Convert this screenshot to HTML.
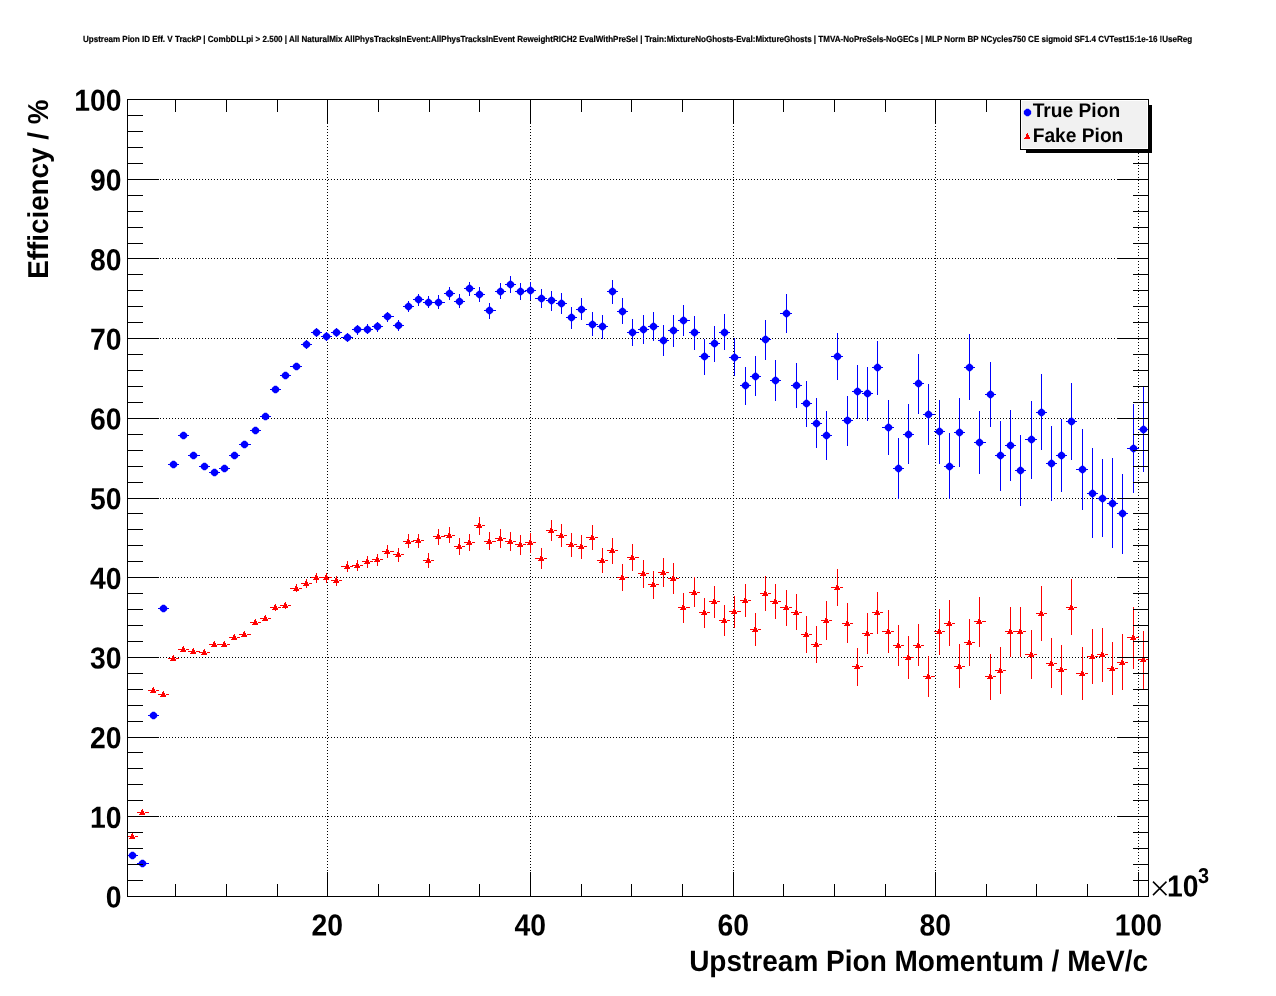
<!DOCTYPE html>
<html><head><meta charset="utf-8"><title>Upstream Pion ID Eff. V TrackP</title>
<style>
html,body{margin:0;padding:0;background:#fff;}
body{width:1276px;height:996px;overflow:hidden;font-family:"Liberation Sans",sans-serif;}
svg{display:block;font-family:"Liberation Sans",sans-serif;font-weight:bold;will-change:transform;text-rendering:geometricPrecision;}
</style></head><body>
<svg width="1276" height="996" viewBox="0 0 1276 996">
<defs><path id="dot" d="M-1.1-3.7H1.1L3.65-1.4V1.4L1.1 3.7H-1.1L-3.65 1.4V-1.4z"/><g id="tri"><rect x="0" y="-3" width="1" height="1"/><rect x="-1" y="-2" width="2" height="1"/><rect x="-1" y="-1" width="3" height="2"/><rect x="-2" y="1" width="5" height="1"/><rect x="-3" y="2" width="6" height="1"/></g></defs>
<rect x="0" y="0" width="1276" height="996" fill="#fff"/>
<text id="ttl" transform="translate(83 42.1) scale(1 1.1)" font-size="8.03" textLength="1109.2" lengthAdjust="spacingAndGlyphs" stroke="#000" stroke-width="0.18">Upstream Pion ID Eff. V TrackP | CombDLLpi &gt; 2.500 | All NaturalMix AllPhysTracksInEvent:AllPhysTracksInEvent ReweightRICH2 EvalWithPreSel | Train:MixtureNoGhosts-Eval:MixtureGhosts | TMVA-NoPreSels-NoGECs | MLP Norm BP NCycles750 CE sigmoid SF1.4 CVTest15:1e-16 !UseReg</text>
<g stroke="#000" stroke-width="1" stroke-dasharray="1 2" shape-rendering="crispEdges" fill="none">
<line x1="127" y1="816.5" x2="1148" y2="816.5"/>
<line x1="127" y1="737.5" x2="1148" y2="737.5"/>
<line x1="127" y1="657.5" x2="1148" y2="657.5"/>
<line x1="127" y1="577.5" x2="1148" y2="577.5"/>
<line x1="127" y1="498.5" x2="1148" y2="498.5"/>
<line x1="127" y1="418.5" x2="1148" y2="418.5"/>
<line x1="127" y1="338.5" x2="1148" y2="338.5"/>
<line x1="127" y1="258.5" x2="1148" y2="258.5"/>
<line x1="127" y1="179.5" x2="1148" y2="179.5"/>
<line x1="327.5" y1="99" x2="327.5" y2="896"/>
<line x1="530.5" y1="99" x2="530.5" y2="896"/>
<line x1="733.5" y1="99" x2="733.5" y2="896"/>
<line x1="935.5" y1="99" x2="935.5" y2="896"/>
<line x1="1138.5" y1="99" x2="1138.5" y2="896"/>
</g>
<g fill="#0000ff" shape-rendering="crispEdges">
<rect x="128" y="855" width="10" height="1"/>
<rect x="137" y="863" width="12" height="1"/>
<rect x="148" y="715" width="11" height="1"/>
<rect x="158" y="608" width="11" height="1"/>
<rect x="168" y="464" width="11" height="1"/>
<rect x="178" y="435" width="11" height="1"/>
<rect x="188" y="455" width="12" height="1"/>
<rect x="199" y="466" width="11" height="1"/>
<rect x="209" y="472" width="11" height="1"/>
<rect x="219" y="468" width="11" height="1"/>
<rect x="229" y="455" width="11" height="1"/>
<rect x="239" y="444" width="12" height="1"/>
<rect x="250" y="430" width="11" height="1"/>
<rect x="260" y="416" width="11" height="1"/>
<rect x="270" y="389" width="11" height="1"/>
<rect x="280" y="375" width="11" height="1"/>
<rect x="290" y="366" width="12" height="1"/>
<rect x="301" y="344" width="11" height="1"/>
<rect x="306" y="340" width="1" height="9"/>
<rect x="311" y="332" width="11" height="1"/>
<rect x="316" y="328" width="1" height="9"/>
<rect x="321" y="336" width="11" height="1"/>
<rect x="326" y="332" width="1" height="9"/>
<rect x="331" y="332" width="11" height="1"/>
<rect x="336" y="328" width="1" height="9"/>
<rect x="341" y="337" width="12" height="1"/>
<rect x="347" y="333" width="1" height="9"/>
<rect x="352" y="329" width="11" height="1"/>
<rect x="357" y="325" width="1" height="10"/>
<rect x="362" y="329" width="11" height="1"/>
<rect x="367" y="324" width="1" height="10"/>
<rect x="372" y="326" width="11" height="1"/>
<rect x="377" y="322" width="1" height="10"/>
<rect x="382" y="316" width="12" height="1"/>
<rect x="387" y="312" width="1" height="10"/>
<rect x="393" y="325" width="11" height="1"/>
<rect x="398" y="320" width="1" height="11"/>
<rect x="403" y="306" width="11" height="1"/>
<rect x="408" y="301" width="1" height="11"/>
<rect x="413" y="299" width="11" height="1"/>
<rect x="418" y="294" width="1" height="12"/>
<rect x="423" y="302" width="11" height="1"/>
<rect x="428" y="296" width="1" height="12"/>
<rect x="433" y="302" width="12" height="1"/>
<rect x="438" y="295" width="1" height="14"/>
<rect x="444" y="293" width="11" height="1"/>
<rect x="449" y="287" width="1" height="13"/>
<rect x="454" y="301" width="11" height="1"/>
<rect x="459" y="294" width="1" height="14"/>
<rect x="464" y="288" width="11" height="1"/>
<rect x="469" y="282" width="1" height="14"/>
<rect x="474" y="294" width="11" height="1"/>
<rect x="479" y="287" width="1" height="15"/>
<rect x="484" y="310" width="12" height="1"/>
<rect x="489" y="303" width="1" height="16"/>
<rect x="495" y="291" width="11" height="1"/>
<rect x="500" y="283" width="1" height="16"/>
<rect x="505" y="284" width="11" height="1"/>
<rect x="510" y="276" width="1" height="17"/>
<rect x="515" y="291" width="11" height="1"/>
<rect x="520" y="283" width="1" height="17"/>
<rect x="525" y="290" width="11" height="1"/>
<rect x="530" y="282" width="1" height="18"/>
<rect x="535" y="298" width="12" height="1"/>
<rect x="541" y="289" width="1" height="19"/>
<rect x="546" y="300" width="11" height="1"/>
<rect x="551" y="291" width="1" height="20"/>
<rect x="556" y="303" width="11" height="1"/>
<rect x="561" y="293" width="1" height="21"/>
<rect x="566" y="317" width="11" height="1"/>
<rect x="571" y="307" width="1" height="22"/>
<rect x="576" y="309" width="11" height="1"/>
<rect x="581" y="298" width="1" height="22"/>
<rect x="586" y="324" width="12" height="1"/>
<rect x="592" y="312" width="1" height="24"/>
<rect x="597" y="326" width="11" height="1"/>
<rect x="602" y="315" width="1" height="24"/>
<rect x="607" y="291" width="11" height="1"/>
<rect x="612" y="280" width="1" height="24"/>
<rect x="617" y="311" width="11" height="1"/>
<rect x="622" y="298" width="1" height="26"/>
<rect x="627" y="332" width="12" height="1"/>
<rect x="632" y="319" width="1" height="27"/>
<rect x="638" y="329" width="11" height="1"/>
<rect x="643" y="315" width="1" height="29"/>
<rect x="648" y="326" width="11" height="1"/>
<rect x="653" y="312" width="1" height="29"/>
<rect x="658" y="340" width="11" height="1"/>
<rect x="663" y="325" width="1" height="31"/>
<rect x="668" y="330" width="11" height="1"/>
<rect x="673" y="315" width="1" height="32"/>
<rect x="678" y="320" width="12" height="1"/>
<rect x="683" y="305" width="1" height="31"/>
<rect x="689" y="332" width="11" height="1"/>
<rect x="694" y="316" width="1" height="34"/>
<rect x="699" y="356" width="11" height="1"/>
<rect x="704" y="339" width="1" height="36"/>
<rect x="709" y="343" width="11" height="1"/>
<rect x="714" y="326" width="1" height="36"/>
<rect x="719" y="332" width="11" height="1"/>
<rect x="724" y="314" width="1" height="36"/>
<rect x="729" y="357" width="12" height="1"/>
<rect x="734" y="338" width="1" height="38"/>
<rect x="740" y="385" width="11" height="1"/>
<rect x="745" y="367" width="1" height="38"/>
<rect x="750" y="376" width="11" height="1"/>
<rect x="755" y="356" width="1" height="40"/>
<rect x="760" y="339" width="11" height="1"/>
<rect x="765" y="320" width="1" height="40"/>
<rect x="770" y="380" width="11" height="1"/>
<rect x="775" y="360" width="1" height="41"/>
<rect x="780" y="313" width="12" height="1"/>
<rect x="786" y="294" width="1" height="39"/>
<rect x="791" y="385" width="11" height="1"/>
<rect x="796" y="363" width="1" height="45"/>
<rect x="801" y="403" width="11" height="1"/>
<rect x="806" y="381" width="1" height="46"/>
<rect x="811" y="423" width="11" height="1"/>
<rect x="816" y="398" width="1" height="50"/>
<rect x="821" y="435" width="11" height="1"/>
<rect x="826" y="411" width="1" height="49"/>
<rect x="831" y="356" width="12" height="1"/>
<rect x="837" y="333" width="1" height="47"/>
<rect x="842" y="420" width="11" height="1"/>
<rect x="847" y="396" width="1" height="50"/>
<rect x="852" y="391" width="11" height="1"/>
<rect x="857" y="365" width="1" height="54"/>
<rect x="862" y="393" width="11" height="1"/>
<rect x="867" y="367" width="1" height="54"/>
<rect x="872" y="367" width="11" height="1"/>
<rect x="877" y="341" width="1" height="54"/>
<rect x="882" y="427" width="12" height="1"/>
<rect x="888" y="400" width="1" height="55"/>
<rect x="893" y="468" width="11" height="1"/>
<rect x="898" y="438" width="1" height="61"/>
<rect x="903" y="434" width="11" height="1"/>
<rect x="908" y="404" width="1" height="60"/>
<rect x="913" y="383" width="11" height="1"/>
<rect x="918" y="354" width="1" height="60"/>
<rect x="923" y="414" width="12" height="1"/>
<rect x="928" y="384" width="1" height="61"/>
<rect x="934" y="431" width="11" height="1"/>
<rect x="939" y="400" width="1" height="64"/>
<rect x="944" y="466" width="11" height="1"/>
<rect x="949" y="433" width="1" height="66"/>
<rect x="954" y="432" width="11" height="1"/>
<rect x="959" y="398" width="1" height="69"/>
<rect x="964" y="367" width="11" height="1"/>
<rect x="969" y="334" width="1" height="66"/>
<rect x="974" y="442" width="12" height="1"/>
<rect x="979" y="411" width="1" height="63"/>
<rect x="985" y="394" width="11" height="1"/>
<rect x="990" y="362" width="1" height="65"/>
<rect x="995" y="455" width="11" height="1"/>
<rect x="1000" y="421" width="1" height="70"/>
<rect x="1005" y="445" width="11" height="1"/>
<rect x="1010" y="410" width="1" height="71"/>
<rect x="1015" y="470" width="11" height="1"/>
<rect x="1020" y="435" width="1" height="71"/>
<rect x="1025" y="439" width="12" height="1"/>
<rect x="1031" y="401" width="1" height="78"/>
<rect x="1036" y="412" width="11" height="1"/>
<rect x="1041" y="374" width="1" height="76"/>
<rect x="1046" y="463" width="11" height="1"/>
<rect x="1051" y="426" width="1" height="75"/>
<rect x="1056" y="455" width="11" height="1"/>
<rect x="1061" y="419" width="1" height="73"/>
<rect x="1066" y="421" width="11" height="1"/>
<rect x="1071" y="383" width="1" height="77"/>
<rect x="1076" y="469" width="12" height="1"/>
<rect x="1082" y="429" width="1" height="81"/>
<rect x="1087" y="493" width="11" height="1"/>
<rect x="1092" y="448" width="1" height="90"/>
<rect x="1097" y="498" width="11" height="1"/>
<rect x="1102" y="459" width="1" height="78"/>
<rect x="1107" y="503" width="11" height="1"/>
<rect x="1112" y="458" width="1" height="90"/>
<rect x="1117" y="513" width="11" height="1"/>
<rect x="1122" y="474" width="1" height="80"/>
<rect x="1127" y="448" width="12" height="1"/>
<rect x="1133" y="404" width="1" height="89"/>
<rect x="1138" y="429" width="10" height="1"/>
<rect x="1143" y="386" width="1" height="86"/>
</g>
<g fill="#0000ff">
<use href="#dot" x="132.5" y="855.5"/>
<use href="#dot" x="142.5" y="863.5"/>
<use href="#dot" x="153.5" y="715.5"/>
<use href="#dot" x="163.5" y="608.5"/>
<use href="#dot" x="173.5" y="464.5"/>
<use href="#dot" x="183.5" y="435.5"/>
<use href="#dot" x="193.5" y="455.5"/>
<use href="#dot" x="204.5" y="466.5"/>
<use href="#dot" x="214.5" y="472.5"/>
<use href="#dot" x="224.5" y="468.5"/>
<use href="#dot" x="234.5" y="455.5"/>
<use href="#dot" x="244.5" y="444.5"/>
<use href="#dot" x="255.5" y="430.5"/>
<use href="#dot" x="265.5" y="416.5"/>
<use href="#dot" x="275.5" y="389.5"/>
<use href="#dot" x="285.5" y="375.5"/>
<use href="#dot" x="296.5" y="366.5"/>
<use href="#dot" x="306.5" y="344.5"/>
<use href="#dot" x="316.5" y="332.5"/>
<use href="#dot" x="326.5" y="336.5"/>
<use href="#dot" x="336.5" y="332.5"/>
<use href="#dot" x="347.5" y="337.5"/>
<use href="#dot" x="357.5" y="329.5"/>
<use href="#dot" x="367.5" y="329.5"/>
<use href="#dot" x="377.5" y="326.5"/>
<use href="#dot" x="387.5" y="316.5"/>
<use href="#dot" x="398.5" y="325.5"/>
<use href="#dot" x="408.5" y="306.5"/>
<use href="#dot" x="418.5" y="299.5"/>
<use href="#dot" x="428.5" y="302.5"/>
<use href="#dot" x="438.5" y="302.5"/>
<use href="#dot" x="449.5" y="293.5"/>
<use href="#dot" x="459.5" y="301.5"/>
<use href="#dot" x="469.5" y="288.5"/>
<use href="#dot" x="479.5" y="294.5"/>
<use href="#dot" x="489.5" y="310.5"/>
<use href="#dot" x="500.5" y="291.5"/>
<use href="#dot" x="510.5" y="284.5"/>
<use href="#dot" x="520.5" y="291.5"/>
<use href="#dot" x="530.5" y="290.5"/>
<use href="#dot" x="541.5" y="298.5"/>
<use href="#dot" x="551.5" y="300.5"/>
<use href="#dot" x="561.5" y="303.5"/>
<use href="#dot" x="571.5" y="317.5"/>
<use href="#dot" x="581.5" y="309.5"/>
<use href="#dot" x="592.5" y="324.5"/>
<use href="#dot" x="602.5" y="326.5"/>
<use href="#dot" x="612.5" y="291.5"/>
<use href="#dot" x="622.5" y="311.5"/>
<use href="#dot" x="632.5" y="332.5"/>
<use href="#dot" x="643.5" y="329.5"/>
<use href="#dot" x="653.5" y="326.5"/>
<use href="#dot" x="663.5" y="340.5"/>
<use href="#dot" x="673.5" y="330.5"/>
<use href="#dot" x="683.5" y="320.5"/>
<use href="#dot" x="694.5" y="332.5"/>
<use href="#dot" x="704.5" y="356.5"/>
<use href="#dot" x="714.5" y="343.5"/>
<use href="#dot" x="724.5" y="332.5"/>
<use href="#dot" x="734.5" y="357.5"/>
<use href="#dot" x="745.5" y="385.5"/>
<use href="#dot" x="755.5" y="376.5"/>
<use href="#dot" x="765.5" y="339.5"/>
<use href="#dot" x="775.5" y="380.5"/>
<use href="#dot" x="786.5" y="313.5"/>
<use href="#dot" x="796.5" y="385.5"/>
<use href="#dot" x="806.5" y="403.5"/>
<use href="#dot" x="816.5" y="423.5"/>
<use href="#dot" x="826.5" y="435.5"/>
<use href="#dot" x="837.5" y="356.5"/>
<use href="#dot" x="847.5" y="420.5"/>
<use href="#dot" x="857.5" y="391.5"/>
<use href="#dot" x="867.5" y="393.5"/>
<use href="#dot" x="877.5" y="367.5"/>
<use href="#dot" x="888.5" y="427.5"/>
<use href="#dot" x="898.5" y="468.5"/>
<use href="#dot" x="908.5" y="434.5"/>
<use href="#dot" x="918.5" y="383.5"/>
<use href="#dot" x="928.5" y="414.5"/>
<use href="#dot" x="939.5" y="431.5"/>
<use href="#dot" x="949.5" y="466.5"/>
<use href="#dot" x="959.5" y="432.5"/>
<use href="#dot" x="969.5" y="367.5"/>
<use href="#dot" x="979.5" y="442.5"/>
<use href="#dot" x="990.5" y="394.5"/>
<use href="#dot" x="1000.5" y="455.5"/>
<use href="#dot" x="1010.5" y="445.5"/>
<use href="#dot" x="1020.5" y="470.5"/>
<use href="#dot" x="1031.5" y="439.5"/>
<use href="#dot" x="1041.5" y="412.5"/>
<use href="#dot" x="1051.5" y="463.5"/>
<use href="#dot" x="1061.5" y="455.5"/>
<use href="#dot" x="1071.5" y="421.5"/>
<use href="#dot" x="1082.5" y="469.5"/>
<use href="#dot" x="1092.5" y="493.5"/>
<use href="#dot" x="1102.5" y="498.5"/>
<use href="#dot" x="1112.5" y="503.5"/>
<use href="#dot" x="1122.5" y="513.5"/>
<use href="#dot" x="1133.5" y="448.5"/>
<use href="#dot" x="1143.5" y="429.5"/>
</g>
<g fill="#ff0000" shape-rendering="crispEdges">
<rect x="128" y="836" width="3" height="1"/>
<rect x="135" y="836" width="3" height="1"/>
<rect x="137" y="812" width="4" height="1"/>
<rect x="145" y="812" width="4" height="1"/>
<rect x="148" y="690" width="4" height="1"/>
<rect x="156" y="690" width="3" height="1"/>
<rect x="158" y="694" width="4" height="1"/>
<rect x="166" y="694" width="3" height="1"/>
<rect x="168" y="658" width="4" height="1"/>
<rect x="176" y="658" width="3" height="1"/>
<rect x="178" y="649" width="4" height="1"/>
<rect x="186" y="649" width="3" height="1"/>
<rect x="188" y="651" width="4" height="1"/>
<rect x="196" y="651" width="4" height="1"/>
<rect x="199" y="652" width="4" height="1"/>
<rect x="207" y="652" width="3" height="1"/>
<rect x="209" y="644" width="4" height="1"/>
<rect x="217" y="644" width="3" height="1"/>
<rect x="219" y="644" width="4" height="1"/>
<rect x="227" y="644" width="3" height="1"/>
<rect x="229" y="637" width="4" height="1"/>
<rect x="237" y="637" width="3" height="1"/>
<rect x="239" y="634" width="4" height="1"/>
<rect x="247" y="634" width="4" height="1"/>
<rect x="250" y="622" width="4" height="1"/>
<rect x="258" y="622" width="3" height="1"/>
<rect x="260" y="618" width="4" height="1"/>
<rect x="268" y="618" width="3" height="1"/>
<rect x="270" y="607" width="4" height="1"/>
<rect x="278" y="607" width="3" height="1"/>
<rect x="275" y="604" width="1" height="7"/>
<rect x="280" y="605" width="4" height="1"/>
<rect x="288" y="605" width="3" height="1"/>
<rect x="285" y="602" width="1" height="7"/>
<rect x="290" y="588" width="5" height="1"/>
<rect x="299" y="588" width="3" height="1"/>
<rect x="296" y="584" width="1" height="8"/>
<rect x="301" y="583" width="4" height="1"/>
<rect x="309" y="583" width="3" height="1"/>
<rect x="306" y="579" width="1" height="9"/>
<rect x="311" y="577" width="4" height="1"/>
<rect x="319" y="577" width="3" height="1"/>
<rect x="316" y="573" width="1" height="10"/>
<rect x="321" y="577" width="4" height="1"/>
<rect x="329" y="577" width="3" height="1"/>
<rect x="326" y="573" width="1" height="10"/>
<rect x="331" y="580" width="4" height="1"/>
<rect x="339" y="580" width="3" height="1"/>
<rect x="336" y="576" width="1" height="10"/>
<rect x="341" y="566" width="5" height="1"/>
<rect x="350" y="566" width="3" height="1"/>
<rect x="347" y="561" width="1" height="11"/>
<rect x="352" y="565" width="4" height="1"/>
<rect x="360" y="565" width="3" height="1"/>
<rect x="357" y="560" width="1" height="11"/>
<rect x="362" y="561" width="4" height="1"/>
<rect x="370" y="561" width="3" height="1"/>
<rect x="367" y="556" width="1" height="12"/>
<rect x="372" y="559" width="4" height="1"/>
<rect x="380" y="559" width="3" height="1"/>
<rect x="377" y="554" width="1" height="12"/>
<rect x="382" y="551" width="4" height="1"/>
<rect x="390" y="551" width="4" height="1"/>
<rect x="387" y="545" width="1" height="13"/>
<rect x="393" y="554" width="4" height="1"/>
<rect x="401" y="554" width="3" height="1"/>
<rect x="398" y="548" width="1" height="14"/>
<rect x="403" y="541" width="4" height="1"/>
<rect x="411" y="541" width="3" height="1"/>
<rect x="408" y="534" width="1" height="14"/>
<rect x="413" y="540" width="4" height="1"/>
<rect x="421" y="540" width="3" height="1"/>
<rect x="418" y="534" width="1" height="14"/>
<rect x="423" y="560" width="4" height="1"/>
<rect x="431" y="560" width="3" height="1"/>
<rect x="428" y="553" width="1" height="15"/>
<rect x="433" y="536" width="4" height="1"/>
<rect x="441" y="536" width="4" height="1"/>
<rect x="438" y="529" width="1" height="16"/>
<rect x="444" y="535" width="4" height="1"/>
<rect x="452" y="535" width="3" height="1"/>
<rect x="449" y="527" width="1" height="16"/>
<rect x="454" y="546" width="4" height="1"/>
<rect x="462" y="546" width="3" height="1"/>
<rect x="459" y="538" width="1" height="17"/>
<rect x="464" y="542" width="4" height="1"/>
<rect x="472" y="542" width="3" height="1"/>
<rect x="469" y="534" width="1" height="17"/>
<rect x="474" y="525" width="4" height="1"/>
<rect x="482" y="525" width="3" height="1"/>
<rect x="479" y="517" width="1" height="18"/>
<rect x="484" y="541" width="4" height="1"/>
<rect x="492" y="541" width="4" height="1"/>
<rect x="489" y="532" width="1" height="18"/>
<rect x="495" y="538" width="4" height="1"/>
<rect x="503" y="538" width="3" height="1"/>
<rect x="500" y="529" width="1" height="19"/>
<rect x="505" y="541" width="4" height="1"/>
<rect x="513" y="541" width="3" height="1"/>
<rect x="510" y="532" width="1" height="19"/>
<rect x="515" y="544" width="4" height="1"/>
<rect x="523" y="544" width="3" height="1"/>
<rect x="520" y="535" width="1" height="20"/>
<rect x="525" y="542" width="4" height="1"/>
<rect x="533" y="542" width="3" height="1"/>
<rect x="530" y="533" width="1" height="20"/>
<rect x="535" y="558" width="5" height="1"/>
<rect x="544" y="558" width="3" height="1"/>
<rect x="541" y="548" width="1" height="21"/>
<rect x="546" y="530" width="4" height="1"/>
<rect x="554" y="530" width="3" height="1"/>
<rect x="551" y="520" width="1" height="21"/>
<rect x="556" y="535" width="4" height="1"/>
<rect x="564" y="535" width="3" height="1"/>
<rect x="561" y="524" width="1" height="23"/>
<rect x="566" y="544" width="4" height="1"/>
<rect x="574" y="544" width="3" height="1"/>
<rect x="571" y="533" width="1" height="24"/>
<rect x="576" y="546" width="4" height="1"/>
<rect x="584" y="546" width="3" height="1"/>
<rect x="581" y="535" width="1" height="24"/>
<rect x="586" y="537" width="5" height="1"/>
<rect x="595" y="537" width="3" height="1"/>
<rect x="592" y="525" width="1" height="25"/>
<rect x="597" y="560" width="4" height="1"/>
<rect x="605" y="560" width="3" height="1"/>
<rect x="602" y="548" width="1" height="25"/>
<rect x="607" y="550" width="4" height="1"/>
<rect x="615" y="550" width="3" height="1"/>
<rect x="612" y="538" width="1" height="26"/>
<rect x="617" y="577" width="4" height="1"/>
<rect x="625" y="577" width="3" height="1"/>
<rect x="622" y="564" width="1" height="27"/>
<rect x="627" y="557" width="4" height="1"/>
<rect x="635" y="557" width="4" height="1"/>
<rect x="632" y="544" width="1" height="27"/>
<rect x="638" y="573" width="4" height="1"/>
<rect x="646" y="573" width="3" height="1"/>
<rect x="643" y="560" width="1" height="28"/>
<rect x="648" y="584" width="4" height="1"/>
<rect x="656" y="584" width="3" height="1"/>
<rect x="653" y="571" width="1" height="28"/>
<rect x="658" y="572" width="4" height="1"/>
<rect x="666" y="572" width="3" height="1"/>
<rect x="663" y="558" width="1" height="29"/>
<rect x="668" y="578" width="4" height="1"/>
<rect x="676" y="578" width="3" height="1"/>
<rect x="673" y="563" width="1" height="31"/>
<rect x="678" y="607" width="4" height="1"/>
<rect x="686" y="607" width="4" height="1"/>
<rect x="683" y="593" width="1" height="30"/>
<rect x="689" y="592" width="4" height="1"/>
<rect x="697" y="592" width="3" height="1"/>
<rect x="694" y="577" width="1" height="30"/>
<rect x="699" y="612" width="4" height="1"/>
<rect x="707" y="612" width="3" height="1"/>
<rect x="704" y="598" width="1" height="30"/>
<rect x="709" y="601" width="4" height="1"/>
<rect x="717" y="601" width="3" height="1"/>
<rect x="714" y="586" width="1" height="32"/>
<rect x="719" y="620" width="4" height="1"/>
<rect x="727" y="620" width="3" height="1"/>
<rect x="724" y="605" width="1" height="31"/>
<rect x="729" y="611" width="4" height="1"/>
<rect x="737" y="611" width="4" height="1"/>
<rect x="734" y="596" width="1" height="32"/>
<rect x="740" y="600" width="4" height="1"/>
<rect x="748" y="600" width="3" height="1"/>
<rect x="745" y="584" width="1" height="33"/>
<rect x="750" y="629" width="4" height="1"/>
<rect x="758" y="629" width="3" height="1"/>
<rect x="755" y="613" width="1" height="33"/>
<rect x="760" y="593" width="4" height="1"/>
<rect x="768" y="593" width="3" height="1"/>
<rect x="765" y="576" width="1" height="35"/>
<rect x="770" y="601" width="4" height="1"/>
<rect x="778" y="601" width="3" height="1"/>
<rect x="775" y="584" width="1" height="35"/>
<rect x="780" y="607" width="5" height="1"/>
<rect x="789" y="607" width="3" height="1"/>
<rect x="786" y="590" width="1" height="36"/>
<rect x="791" y="612" width="4" height="1"/>
<rect x="799" y="612" width="3" height="1"/>
<rect x="796" y="594" width="1" height="36"/>
<rect x="801" y="634" width="4" height="1"/>
<rect x="809" y="634" width="3" height="1"/>
<rect x="806" y="616" width="1" height="37"/>
<rect x="811" y="644" width="4" height="1"/>
<rect x="819" y="644" width="3" height="1"/>
<rect x="816" y="626" width="1" height="37"/>
<rect x="821" y="620" width="4" height="1"/>
<rect x="829" y="620" width="3" height="1"/>
<rect x="826" y="601" width="1" height="39"/>
<rect x="831" y="587" width="5" height="1"/>
<rect x="840" y="587" width="3" height="1"/>
<rect x="837" y="569" width="1" height="37"/>
<rect x="842" y="623" width="4" height="1"/>
<rect x="850" y="623" width="3" height="1"/>
<rect x="847" y="603" width="1" height="40"/>
<rect x="852" y="666" width="4" height="1"/>
<rect x="860" y="666" width="3" height="1"/>
<rect x="857" y="648" width="1" height="38"/>
<rect x="862" y="633" width="4" height="1"/>
<rect x="870" y="633" width="3" height="1"/>
<rect x="867" y="613" width="1" height="41"/>
<rect x="872" y="612" width="4" height="1"/>
<rect x="880" y="612" width="3" height="1"/>
<rect x="877" y="592" width="1" height="42"/>
<rect x="882" y="631" width="5" height="1"/>
<rect x="891" y="631" width="3" height="1"/>
<rect x="888" y="610" width="1" height="43"/>
<rect x="893" y="645" width="4" height="1"/>
<rect x="901" y="645" width="3" height="1"/>
<rect x="898" y="625" width="1" height="41"/>
<rect x="903" y="657" width="4" height="1"/>
<rect x="911" y="657" width="3" height="1"/>
<rect x="908" y="636" width="1" height="43"/>
<rect x="913" y="645" width="4" height="1"/>
<rect x="921" y="645" width="3" height="1"/>
<rect x="918" y="624" width="1" height="42"/>
<rect x="923" y="676" width="4" height="1"/>
<rect x="931" y="676" width="4" height="1"/>
<rect x="928" y="656" width="1" height="41"/>
<rect x="934" y="631" width="4" height="1"/>
<rect x="942" y="631" width="3" height="1"/>
<rect x="939" y="609" width="1" height="46"/>
<rect x="944" y="623" width="4" height="1"/>
<rect x="952" y="623" width="3" height="1"/>
<rect x="949" y="600" width="1" height="46"/>
<rect x="954" y="666" width="4" height="1"/>
<rect x="962" y="666" width="3" height="1"/>
<rect x="959" y="644" width="1" height="44"/>
<rect x="964" y="642" width="4" height="1"/>
<rect x="972" y="642" width="3" height="1"/>
<rect x="969" y="619" width="1" height="47"/>
<rect x="974" y="621" width="4" height="1"/>
<rect x="982" y="621" width="4" height="1"/>
<rect x="979" y="597" width="1" height="50"/>
<rect x="985" y="676" width="4" height="1"/>
<rect x="993" y="676" width="3" height="1"/>
<rect x="990" y="654" width="1" height="46"/>
<rect x="995" y="670" width="4" height="1"/>
<rect x="1003" y="670" width="3" height="1"/>
<rect x="1000" y="647" width="1" height="47"/>
<rect x="1005" y="631" width="4" height="1"/>
<rect x="1013" y="631" width="3" height="1"/>
<rect x="1010" y="607" width="1" height="50"/>
<rect x="1015" y="631" width="4" height="1"/>
<rect x="1023" y="631" width="3" height="1"/>
<rect x="1020" y="607" width="1" height="50"/>
<rect x="1025" y="654" width="5" height="1"/>
<rect x="1034" y="654" width="3" height="1"/>
<rect x="1031" y="630" width="1" height="49"/>
<rect x="1036" y="613" width="4" height="1"/>
<rect x="1044" y="613" width="3" height="1"/>
<rect x="1041" y="586" width="1" height="55"/>
<rect x="1046" y="663" width="4" height="1"/>
<rect x="1054" y="663" width="3" height="1"/>
<rect x="1051" y="638" width="1" height="50"/>
<rect x="1056" y="669" width="4" height="1"/>
<rect x="1064" y="669" width="3" height="1"/>
<rect x="1061" y="645" width="1" height="50"/>
<rect x="1066" y="607" width="4" height="1"/>
<rect x="1074" y="607" width="3" height="1"/>
<rect x="1071" y="579" width="1" height="56"/>
<rect x="1076" y="673" width="5" height="1"/>
<rect x="1085" y="673" width="3" height="1"/>
<rect x="1082" y="647" width="1" height="53"/>
<rect x="1087" y="656" width="4" height="1"/>
<rect x="1095" y="656" width="3" height="1"/>
<rect x="1092" y="629" width="1" height="55"/>
<rect x="1097" y="654" width="4" height="1"/>
<rect x="1105" y="654" width="3" height="1"/>
<rect x="1102" y="628" width="1" height="54"/>
<rect x="1107" y="668" width="4" height="1"/>
<rect x="1115" y="668" width="3" height="1"/>
<rect x="1112" y="642" width="1" height="53"/>
<rect x="1117" y="662" width="4" height="1"/>
<rect x="1125" y="662" width="3" height="1"/>
<rect x="1122" y="634" width="1" height="56"/>
<rect x="1127" y="637" width="5" height="1"/>
<rect x="1136" y="637" width="3" height="1"/>
<rect x="1133" y="607" width="1" height="62"/>
<rect x="1138" y="659" width="4" height="1"/>
<rect x="1146" y="659" width="2" height="1"/>
<rect x="1143" y="631" width="1" height="58"/>
</g>
<g fill="#ff0000" shape-rendering="crispEdges">
<use href="#tri" x="132" y="836"/>
<use href="#tri" x="142" y="812"/>
<use href="#tri" x="153" y="690"/>
<use href="#tri" x="163" y="694"/>
<use href="#tri" x="173" y="658"/>
<use href="#tri" x="183" y="649"/>
<use href="#tri" x="193" y="651"/>
<use href="#tri" x="204" y="652"/>
<use href="#tri" x="214" y="644"/>
<use href="#tri" x="224" y="644"/>
<use href="#tri" x="234" y="637"/>
<use href="#tri" x="244" y="634"/>
<use href="#tri" x="255" y="622"/>
<use href="#tri" x="265" y="618"/>
<use href="#tri" x="275" y="607"/>
<use href="#tri" x="285" y="605"/>
<use href="#tri" x="296" y="588"/>
<use href="#tri" x="306" y="583"/>
<use href="#tri" x="316" y="577"/>
<use href="#tri" x="326" y="577"/>
<use href="#tri" x="336" y="580"/>
<use href="#tri" x="347" y="566"/>
<use href="#tri" x="357" y="565"/>
<use href="#tri" x="367" y="561"/>
<use href="#tri" x="377" y="559"/>
<use href="#tri" x="387" y="551"/>
<use href="#tri" x="398" y="554"/>
<use href="#tri" x="408" y="541"/>
<use href="#tri" x="418" y="540"/>
<use href="#tri" x="428" y="560"/>
<use href="#tri" x="438" y="536"/>
<use href="#tri" x="449" y="535"/>
<use href="#tri" x="459" y="546"/>
<use href="#tri" x="469" y="542"/>
<use href="#tri" x="479" y="525"/>
<use href="#tri" x="489" y="541"/>
<use href="#tri" x="500" y="538"/>
<use href="#tri" x="510" y="541"/>
<use href="#tri" x="520" y="544"/>
<use href="#tri" x="530" y="542"/>
<use href="#tri" x="541" y="558"/>
<use href="#tri" x="551" y="530"/>
<use href="#tri" x="561" y="535"/>
<use href="#tri" x="571" y="544"/>
<use href="#tri" x="581" y="546"/>
<use href="#tri" x="592" y="537"/>
<use href="#tri" x="602" y="560"/>
<use href="#tri" x="612" y="550"/>
<use href="#tri" x="622" y="577"/>
<use href="#tri" x="632" y="557"/>
<use href="#tri" x="643" y="573"/>
<use href="#tri" x="653" y="584"/>
<use href="#tri" x="663" y="572"/>
<use href="#tri" x="673" y="578"/>
<use href="#tri" x="683" y="607"/>
<use href="#tri" x="694" y="592"/>
<use href="#tri" x="704" y="612"/>
<use href="#tri" x="714" y="601"/>
<use href="#tri" x="724" y="620"/>
<use href="#tri" x="734" y="611"/>
<use href="#tri" x="745" y="600"/>
<use href="#tri" x="755" y="629"/>
<use href="#tri" x="765" y="593"/>
<use href="#tri" x="775" y="601"/>
<use href="#tri" x="786" y="607"/>
<use href="#tri" x="796" y="612"/>
<use href="#tri" x="806" y="634"/>
<use href="#tri" x="816" y="644"/>
<use href="#tri" x="826" y="620"/>
<use href="#tri" x="837" y="587"/>
<use href="#tri" x="847" y="623"/>
<use href="#tri" x="857" y="666"/>
<use href="#tri" x="867" y="633"/>
<use href="#tri" x="877" y="612"/>
<use href="#tri" x="888" y="631"/>
<use href="#tri" x="898" y="645"/>
<use href="#tri" x="908" y="657"/>
<use href="#tri" x="918" y="645"/>
<use href="#tri" x="928" y="676"/>
<use href="#tri" x="939" y="631"/>
<use href="#tri" x="949" y="623"/>
<use href="#tri" x="959" y="666"/>
<use href="#tri" x="969" y="642"/>
<use href="#tri" x="979" y="621"/>
<use href="#tri" x="990" y="676"/>
<use href="#tri" x="1000" y="670"/>
<use href="#tri" x="1010" y="631"/>
<use href="#tri" x="1020" y="631"/>
<use href="#tri" x="1031" y="654"/>
<use href="#tri" x="1041" y="613"/>
<use href="#tri" x="1051" y="663"/>
<use href="#tri" x="1061" y="669"/>
<use href="#tri" x="1071" y="607"/>
<use href="#tri" x="1082" y="673"/>
<use href="#tri" x="1092" y="656"/>
<use href="#tri" x="1102" y="654"/>
<use href="#tri" x="1112" y="668"/>
<use href="#tri" x="1122" y="662"/>
<use href="#tri" x="1133" y="637"/>
<use href="#tri" x="1143" y="659"/>
</g>
<g fill="#000" shape-rendering="crispEdges">
<rect x="127" y="99" width="1022" height="1"/>
<rect x="127" y="896" width="1022" height="1"/>
<rect x="127" y="99" width="1" height="798"/>
<rect x="1148" y="99" width="1" height="798"/>
<rect x="128" y="880" width="15" height="1"/>
<rect x="1133" y="880" width="15" height="1"/>
<rect x="128" y="864" width="15" height="1"/>
<rect x="1133" y="864" width="15" height="1"/>
<rect x="128" y="848" width="15" height="1"/>
<rect x="1133" y="848" width="15" height="1"/>
<rect x="128" y="832" width="15" height="1"/>
<rect x="1133" y="832" width="15" height="1"/>
<rect x="128" y="816" width="31" height="1"/>
<rect x="1117" y="816" width="31" height="1"/>
<rect x="128" y="800" width="15" height="1"/>
<rect x="1133" y="800" width="15" height="1"/>
<rect x="128" y="784" width="15" height="1"/>
<rect x="1133" y="784" width="15" height="1"/>
<rect x="128" y="768" width="15" height="1"/>
<rect x="1133" y="768" width="15" height="1"/>
<rect x="128" y="752" width="15" height="1"/>
<rect x="1133" y="752" width="15" height="1"/>
<rect x="128" y="737" width="31" height="1"/>
<rect x="1117" y="737" width="31" height="1"/>
<rect x="128" y="721" width="15" height="1"/>
<rect x="1133" y="721" width="15" height="1"/>
<rect x="128" y="705" width="15" height="1"/>
<rect x="1133" y="705" width="15" height="1"/>
<rect x="128" y="689" width="15" height="1"/>
<rect x="1133" y="689" width="15" height="1"/>
<rect x="128" y="673" width="15" height="1"/>
<rect x="1133" y="673" width="15" height="1"/>
<rect x="128" y="657" width="31" height="1"/>
<rect x="1117" y="657" width="31" height="1"/>
<rect x="128" y="641" width="15" height="1"/>
<rect x="1133" y="641" width="15" height="1"/>
<rect x="128" y="625" width="15" height="1"/>
<rect x="1133" y="625" width="15" height="1"/>
<rect x="128" y="609" width="15" height="1"/>
<rect x="1133" y="609" width="15" height="1"/>
<rect x="128" y="593" width="15" height="1"/>
<rect x="1133" y="593" width="15" height="1"/>
<rect x="128" y="577" width="31" height="1"/>
<rect x="1117" y="577" width="31" height="1"/>
<rect x="128" y="561" width="15" height="1"/>
<rect x="1133" y="561" width="15" height="1"/>
<rect x="128" y="545" width="15" height="1"/>
<rect x="1133" y="545" width="15" height="1"/>
<rect x="128" y="529" width="15" height="1"/>
<rect x="1133" y="529" width="15" height="1"/>
<rect x="128" y="513" width="15" height="1"/>
<rect x="1133" y="513" width="15" height="1"/>
<rect x="128" y="498" width="31" height="1"/>
<rect x="1117" y="498" width="31" height="1"/>
<rect x="128" y="482" width="15" height="1"/>
<rect x="1133" y="482" width="15" height="1"/>
<rect x="128" y="466" width="15" height="1"/>
<rect x="1133" y="466" width="15" height="1"/>
<rect x="128" y="450" width="15" height="1"/>
<rect x="1133" y="450" width="15" height="1"/>
<rect x="128" y="434" width="15" height="1"/>
<rect x="1133" y="434" width="15" height="1"/>
<rect x="128" y="418" width="31" height="1"/>
<rect x="1117" y="418" width="31" height="1"/>
<rect x="128" y="402" width="15" height="1"/>
<rect x="1133" y="402" width="15" height="1"/>
<rect x="128" y="386" width="15" height="1"/>
<rect x="1133" y="386" width="15" height="1"/>
<rect x="128" y="370" width="15" height="1"/>
<rect x="1133" y="370" width="15" height="1"/>
<rect x="128" y="354" width="15" height="1"/>
<rect x="1133" y="354" width="15" height="1"/>
<rect x="128" y="338" width="31" height="1"/>
<rect x="1117" y="338" width="31" height="1"/>
<rect x="128" y="322" width="15" height="1"/>
<rect x="1133" y="322" width="15" height="1"/>
<rect x="128" y="306" width="15" height="1"/>
<rect x="1133" y="306" width="15" height="1"/>
<rect x="128" y="290" width="15" height="1"/>
<rect x="1133" y="290" width="15" height="1"/>
<rect x="128" y="274" width="15" height="1"/>
<rect x="1133" y="274" width="15" height="1"/>
<rect x="128" y="258" width="31" height="1"/>
<rect x="1117" y="258" width="31" height="1"/>
<rect x="128" y="243" width="15" height="1"/>
<rect x="1133" y="243" width="15" height="1"/>
<rect x="128" y="227" width="15" height="1"/>
<rect x="1133" y="227" width="15" height="1"/>
<rect x="128" y="211" width="15" height="1"/>
<rect x="1133" y="211" width="15" height="1"/>
<rect x="128" y="195" width="15" height="1"/>
<rect x="1133" y="195" width="15" height="1"/>
<rect x="128" y="179" width="31" height="1"/>
<rect x="1117" y="179" width="31" height="1"/>
<rect x="128" y="163" width="15" height="1"/>
<rect x="1133" y="163" width="15" height="1"/>
<rect x="128" y="147" width="15" height="1"/>
<rect x="1133" y="147" width="15" height="1"/>
<rect x="128" y="131" width="15" height="1"/>
<rect x="1133" y="131" width="15" height="1"/>
<rect x="128" y="115" width="15" height="1"/>
<rect x="1133" y="115" width="15" height="1"/>
<rect x="175" y="884" width="1" height="12"/>
<rect x="175" y="100" width="1" height="12"/>
<rect x="226" y="884" width="1" height="12"/>
<rect x="226" y="100" width="1" height="12"/>
<rect x="277" y="884" width="1" height="12"/>
<rect x="277" y="100" width="1" height="12"/>
<rect x="327" y="872" width="1" height="24"/>
<rect x="327" y="100" width="1" height="24"/>
<rect x="378" y="884" width="1" height="12"/>
<rect x="378" y="100" width="1" height="12"/>
<rect x="429" y="884" width="1" height="12"/>
<rect x="429" y="100" width="1" height="12"/>
<rect x="479" y="884" width="1" height="12"/>
<rect x="479" y="100" width="1" height="12"/>
<rect x="530" y="872" width="1" height="24"/>
<rect x="530" y="100" width="1" height="24"/>
<rect x="581" y="884" width="1" height="12"/>
<rect x="581" y="100" width="1" height="12"/>
<rect x="631" y="884" width="1" height="12"/>
<rect x="631" y="100" width="1" height="12"/>
<rect x="682" y="884" width="1" height="12"/>
<rect x="682" y="100" width="1" height="12"/>
<rect x="733" y="872" width="1" height="24"/>
<rect x="733" y="100" width="1" height="24"/>
<rect x="783" y="884" width="1" height="12"/>
<rect x="783" y="100" width="1" height="12"/>
<rect x="834" y="884" width="1" height="12"/>
<rect x="834" y="100" width="1" height="12"/>
<rect x="885" y="884" width="1" height="12"/>
<rect x="885" y="100" width="1" height="12"/>
<rect x="935" y="872" width="1" height="24"/>
<rect x="935" y="100" width="1" height="24"/>
<rect x="986" y="884" width="1" height="12"/>
<rect x="986" y="100" width="1" height="12"/>
<rect x="1036" y="884" width="1" height="12"/>
<rect x="1036" y="100" width="1" height="12"/>
<rect x="1087" y="884" width="1" height="12"/>
<rect x="1087" y="100" width="1" height="12"/>
<rect x="1138" y="872" width="1" height="24"/>
<rect x="1138" y="100" width="1" height="24"/>
</g>
<g shape-rendering="crispEdges">
<rect x="1026" y="150" width="126" height="3" fill="#000"/>
<rect x="1149" y="105" width="3" height="48" fill="#000"/>
<rect x="1020.5" y="99.5" width="128" height="50" fill="#f1f1f1" stroke="#000" stroke-width="1"/>
<rect x="1021.5" y="100.5" width="126" height="48" fill="none" stroke="#fff" stroke-width="1"/>
</g>
<use href="#dot" x="1027.5" y="112.5" fill="#0000ff"/>
<use href="#tri" x="1027" y="136" fill="#ff0000" shape-rendering="crispEdges"/>
<g font-size="19.2" fill="#000">
<text id="lg1" transform="translate(1032.7 116.7) scale(1 1.03)">True Pion</text>
<text id="lg2" transform="translate(1032.7 141.5) scale(1 1.03)">Fake Pion</text>
</g>
<g font-size="28" fill="#000">
<text transform="translate(121.5 907.6) rotate(.05) scale(1.012 1.085)" text-anchor="end">0</text>
<text transform="translate(121.5 827.9) rotate(.05) scale(1.012 1.085)" text-anchor="end">10</text>
<text transform="translate(121.5 748.2) rotate(.05) scale(1.012 1.085)" text-anchor="end">20</text>
<text transform="translate(121.5 668.6) rotate(.05) scale(1.012 1.085)" text-anchor="end">30</text>
<text transform="translate(121.5 588.9) rotate(.05) scale(1.012 1.085)" text-anchor="end">40</text>
<text transform="translate(121.5 509.2) rotate(.05) scale(1.012 1.085)" text-anchor="end">50</text>
<text transform="translate(121.5 429.5) rotate(.05) scale(1.012 1.085)" text-anchor="end">60</text>
<text transform="translate(121.5 349.8) rotate(.05) scale(1.012 1.085)" text-anchor="end">70</text>
<text transform="translate(121.5 270.2) rotate(.05) scale(1.012 1.085)" text-anchor="end">80</text>
<text transform="translate(121.5 190.5) rotate(.05) scale(1.012 1.085)" text-anchor="end">90</text>
<text transform="translate(121.5 110.8) rotate(.05) scale(1.012 1.085)" text-anchor="end">100</text>
<text transform="translate(327.3 935.5) rotate(.05) scale(1.012 1.085)" text-anchor="middle">20</text>
<text transform="translate(530.3 935.5) rotate(.05) scale(1.012 1.085)" text-anchor="middle">40</text>
<text transform="translate(733.3 935.5) rotate(.05) scale(1.012 1.085)" text-anchor="middle">60</text>
<text transform="translate(935.3 935.5) rotate(.05) scale(1.012 1.085)" text-anchor="middle">80</text>
<text transform="translate(1138.3 935.5) rotate(.05) scale(1.012 1.085)" text-anchor="middle">100</text>
<text id="xt" transform="translate(1148.1 971) scale(1 1.055)" text-anchor="end">Upstream Pion Momentum / MeV/c</text>
<text id="yt" transform="translate(47.9 99.6) rotate(-90) scale(1 1.035)" font-size="27.8" text-anchor="end">Efficiency / %</text>
<text id="e10" transform="translate(1167.1 896.5) rotate(.05) scale(1.012 1.085)">10</text>
<text id="e3" transform="translate(1198 882.6) scale(1.02 1.1)" font-size="19.5">3</text>
</g>
<path d="M1153 881.6L1166.5 895.1M1166.5 881.6L1153 895.1" stroke="#000" stroke-width="1.5" fill="none"/>
</svg>
</body></html>
